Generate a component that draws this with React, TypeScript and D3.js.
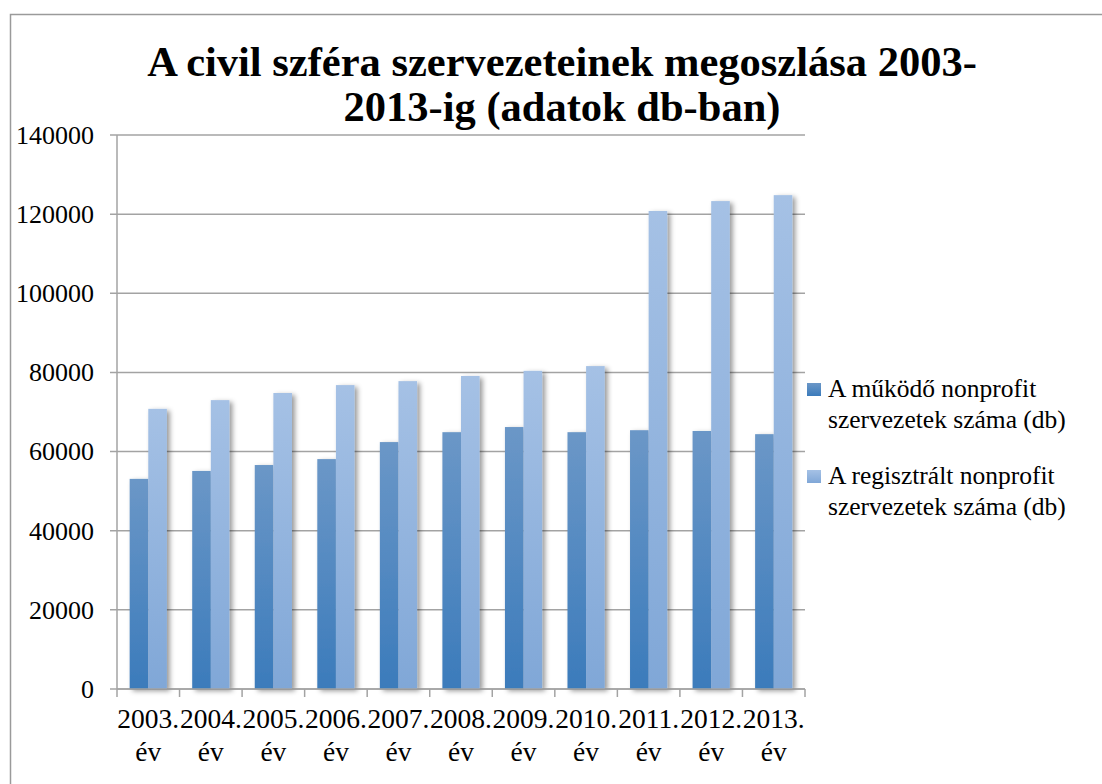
import React, { useEffect, useRef } from 'react';
import * as d3 from 'd3';

const years = ['2003.', '2004.', '2005.', '2006.', '2007.', '2008.', '2009.', '2010.', '2011.', '2012.', '2013.'];
const mukodo = [53100, 55100, 56600, 58100, 62400, 64900, 66200, 64900, 65400, 65200, 64400];
const regisztralt = [70800, 73000, 74800, 76800, 77800, 79100, 80400, 81600, 120800, 123300, 124800];
const seriesNames = [
  ['A működő nonprofit', 'szervezetek száma (db)'],
  ['A regisztrált nonprofit', 'szervezetek száma (db)'],
];
const yTicks = [0, 20000, 40000, 60000, 80000, 100000, 120000, 140000];

const W = 1102;
const H = 784;
const FONT = '"Liberation Serif", "Times New Roman", serif';

const App = () => {
  const ref = useRef<SVGSVGElement | null>(null);

  useEffect(() => {
    const svg = d3.select(ref.current);
    svg.selectAll('*').remove();

    const left = 117, right = 805, top = 135, bottom = 689;

    const defs = svg.append('defs');
    const grads = [
      { id: 'g0', c0: '#6b97c7', c1: '#3b7bbb' },
      { id: 'g1', c0: '#a5c1e5', c1: '#80a7d7' },
    ];
    grads.forEach(g => {
      const lg = defs.append('linearGradient').attr('id', g.id)
        .attr('x1', 0).attr('y1', 0).attr('x2', 0).attr('y2', 1);
      lg.append('stop').attr('offset', '0%').attr('stop-color', g.c0);
      lg.append('stop').attr('offset', '100%').attr('stop-color', g.c1);
    });
    defs.append('filter').attr('id', 'shadow')
      .attr('x', '-30%').attr('y', '-5%').attr('width', '180%').attr('height', '115%')
      .append('feDropShadow')
      .attr('dx', 3).attr('dy', 2).attr('stdDeviation', 2.5)
      .attr('flood-color', '#000').attr('flood-opacity', 0.4);

    // outer chart border
    svg.append('rect')
      .attr('x', 10.5).attr('y', 14.5).attr('width', W).attr('height', H)
      .attr('fill', 'white').attr('stroke', '#9a9a9a').attr('stroke-width', 1.5);

    // title
    const title = svg.append('text')
      .attr('text-anchor', 'middle')
      .attr('font-family', FONT).attr('font-weight', 'bold').attr('font-size', 42.5);
    title.append('tspan').attr('x', 562).attr('y', 76).text('A civil szféra szervezeteinek megoszlása 2003-');
    title.append('tspan').attr('x', 562).attr('y', 121).text('2013-ig (adatok db-ban)');

    const x0 = d3.scaleBand<string>()
      .domain(years)
      .range([left, right])
      .paddingInner(0.405)
      .paddingOuter(0.2025);

    const x1 = d3.scaleBand<number>()
      .domain([0, 1])
      .range([0, x0.bandwidth()]);

    const y = d3.scaleLinear()
      .domain([0, 140000])
      .range([bottom, top]);

    // gridlines + y ticks
    const grid = svg.append('g');
    grid.selectAll('line')
      .data(yTicks)
      .join('line')
      .attr('x1', left - 7).attr('x2', right)
      .attr('y1', d => y(d)).attr('y2', d => y(d))
      .attr('stroke', '#a3a3a3').attr('stroke-width', 1.5);

    svg.append('g').selectAll('text')
      .data(yTicks)
      .join('text')
      .attr('x', 94)
      .attr('y', d => y(d))
      .attr('dy', '0.34em')
      .attr('text-anchor', 'end')
      .attr('font-family', FONT).attr('font-size', 26)
      .text(d => String(d));

    // y axis line
    svg.append('line')
      .attr('x1', left).attr('x2', left).attr('y1', top).attr('y2', bottom)
      .attr('stroke', '#a3a3a3').attr('stroke-width', 1.5);

    // bars
    const series = [mukodo, regisztralt];
    const bars = svg.append('g').attr('filter', 'url(#shadow)');
    series.forEach((vals, si) => {
      bars.append('g').selectAll('rect')
        .data(vals)
        .join('rect')
        .attr('x', (d, i) => (x0(years[i]) as number) + (x1(si) as number))
        .attr('y', d => y(d))
        .attr('width', x1.bandwidth())
        .attr('height', d => y(0) - y(d))
        .attr('fill', `url(#g${si})`);
    });

    // x axis
    const step = x0.step();
    const xAxis = svg.append('g');
    xAxis.append('line')
      .attr('x1', left).attr('x2', right).attr('y1', bottom).attr('y2', bottom)
      .attr('stroke', '#a3a3a3').attr('stroke-width', 1.5);
    xAxis.selectAll('line.tick')
      .data(d3.range(years.length + 1))
      .join('line')
      .attr('class', 'tick')
      .attr('x1', i => left + i * step).attr('x2', i => left + i * step)
      .attr('y1', bottom).attr('y2', bottom + 8)
      .attr('stroke', '#a3a3a3').attr('stroke-width', 1.5);

    const labels = xAxis.selectAll('text.lab')
      .data(years)
      .join('text')
      .attr('class', 'lab')
      .attr('text-anchor', 'middle')
      .attr('font-family', FONT).attr('font-size', 27.5);
    labels.append('tspan')
      .attr('x', d => (x0(d) as number) + x0.bandwidth() / 2)
      .attr('y', 728)
      .text(d => d);
    labels.append('tspan')
      .attr('x', d => (x0(d) as number) + x0.bandwidth() / 2)
      .attr('y', 761)
      .text('év');

    // legend
    const legend = svg.append('g');
    const legendY = [383, 470];
    seriesNames.forEach((lines, si) => {
      legend.append('rect')
        .attr('x', 807).attr('y', legendY[si])
        .attr('width', 14).attr('height', 13)
        .attr('fill', `url(#g${si})`);
      const t = legend.append('text')
        .attr('font-family', FONT).attr('font-size', 25.5);
      lines.forEach((ln, li) => {
        t.append('tspan')
          .attr('x', 828)
          .attr('y', legendY[si] + 14 + li * 31)
          .text(ln);
      });
    });
  }, []);

  return (
    <svg ref={ref} width={W} height={H}
      style={{ position: 'absolute', left: 0, top: 0, background: 'white' }} />
  );
};

export default App;
